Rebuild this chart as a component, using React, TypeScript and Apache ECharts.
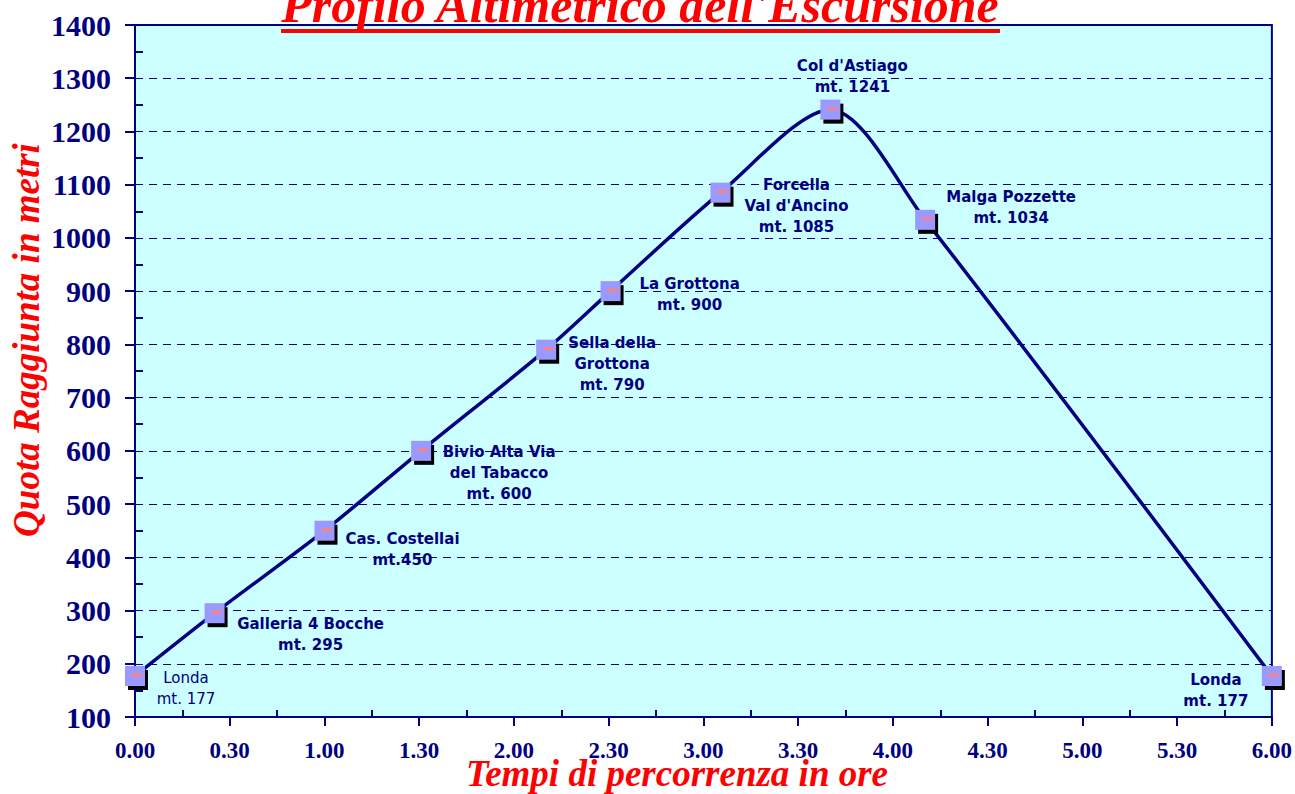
import React, { useEffect, useRef } from "react";
import * as echarts from "echarts";

// ---- Data ----
const pointNames = [
  "Londa",
  "Galleria 4 Bocche",
  "Cas. Costellai",
  "Bivio Alta Via\ndel Tabacco",
  "Sella della\nGrottona",
  "La Grottona",
  "Forcella\nVal d'Ancino",
  "Col d'Astiago",
  "Malga Pozzette",
  "Londa",
];
const elevationLabels = [
  "mt. 177",
  "mt. 295",
  "mt.450",
  "mt. 600",
  "mt. 790",
  "mt. 900",
  "mt. 1085",
  "mt. 1241",
  "mt. 1034",
  "mt. 177",
];
const timesHours = [0, 0.42, 1.0, 1.51, 2.17, 2.51, 3.09, 3.67, 4.17, 6.0];
const elevations = [177, 295, 450, 600, 790, 900, 1085, 1241, 1034, 177];
const xTickLabels = [
  "0.00", "0.30", "1.00", "1.30", "2.00", "2.30", "3.00",
  "3.30", "4.00", "4.30", "5.00", "5.30", "6.00",
];

// ---- Styles (label placement relative to each marker) ----
const labelOffsets: [number, number][] = [
  [51, 12], [96, 21], [78, 19], [78, 22], [66, 14],
  [79, 3], [76, 13], [22, -33], [86, -12], [-56, 14],
];
const labelWeights = ["normal", "bold", "bold", "bold", "bold", "bold", "bold", "bold", "bold", "bold"];

const NAVY = "#000080";
const RED = "#FF0000";

export default function App() {
  const ref = useRef<HTMLDivElement>(null);
  useEffect(() => {
    if (!ref.current) return;
    const chart = echarts.init(ref.current, undefined, { renderer: "svg" });
    const pts = timesHours.map((t, i) => [t, elevations[i]]);
    const option: any = {
      animation: false,
      backgroundColor: "#FFFFFF",
      grid: {
        left: 135,
        top: 25,
        right: 23,
        bottom: 77,
        show: true,
        backgroundColor: "#CCFFFF",
        borderColor: NAVY,
        borderWidth: 2,
      },
      xAxis: {
        type: "value",
        min: 0,
        max: 6,
        interval: 0.5,
        axisLine: { show: true, onZero: false, lineStyle: { color: NAVY, width: 2 } },
        axisTick: { show: true, length: 9, lineStyle: { color: NAVY, width: 2 } },
        minorTick: { show: true, splitNumber: 2, length: -7, lineStyle: { color: NAVY, width: 2 } },
        splitLine: { show: false },
        axisLabel: {
          color: NAVY,
          fontFamily: '"Liberation Serif", "Times New Roman", serif',
          fontWeight: "bold",
          fontSize: 23,
          margin: 22,
          formatter: (v: number) => xTickLabels[Math.round(v * 2)] ?? "",
        },
      },
      yAxis: {
        type: "value",
        min: 100,
        max: 1400,
        interval: 100,
        axisLine: { show: true, onZero: false, lineStyle: { color: NAVY, width: 2 } },
        axisTick: { show: true, length: 10, lineStyle: { color: NAVY, width: 2 } },
        minorTick: { show: true, splitNumber: 2, length: -8, lineStyle: { color: NAVY, width: 2 } },
        splitLine: { show: true, lineStyle: { color: NAVY, width: 1, type: [8, 6] } },
        axisLabel: {
          color: NAVY,
          fontFamily: '"Liberation Serif", "Times New Roman", serif',
          fontWeight: "bold",
          fontSize: 30,
          margin: 24,
          formatter: (v: number) => String(v),
        },
      },
      graphic: [
        {
          type: "text",
          x: 640,
          y: 5,
          z: 100,
          style: {
            text: "Profilo Altimetrico dell'Escursione",
            fill: RED,
            font: 'italic bold 50px "Liberation Serif", serif',
            textAlign: "center",
            textVerticalAlign: "middle",
          },
        },
        {
          type: "rect",
          z: 100,
          shape: { x: 281, y: 29, width: 719, height: 4 },
          style: { fill: RED },
        },
        {
          type: "text",
          x: 26,
          y: 340,
          rotation: Math.PI / 2,
          z: 100,
          style: {
            text: "Quota Raggiunta in metri",
            fill: RED,
            font: 'italic bold 37px "Liberation Serif", serif',
            textAlign: "center",
            textVerticalAlign: "middle",
          },
        },
        {
          type: "text",
          x: 677,
          y: 773,
          z: 100,
          style: {
            text: "Tempi di percorrenza in ore",
            fill: RED,
            font: 'italic bold 37px "Liberation Serif", serif',
            textAlign: "center",
            textVerticalAlign: "middle",
          },
        },
      ],
      series: [
        {
          type: "line",
          data: pts,
          smooth: 0.3,
          showSymbol: false,
          symbol: "none",
          lineStyle: { color: NAVY, width: 3.5 },
          z: 2,
        },
        {
          type: "scatter",
          data: pts,
          symbol: "rect",
          symbolSize: 20,
          symbolOffset: [3, 4],
          itemStyle: { color: "#000000", opacity: 1 },
          z: 3,
          silent: true,
        },
        {
          type: "scatter",
          data: pts.map((p, i) => ({
            value: p,
            label: {
              show: true,
              position: "inside",
              offset: labelOffsets[i],
              formatter: pointNames[i] + "\n" + elevationLabels[i],
              color: NAVY,
              fontFamily: '"DejaVu Sans", Verdana, sans-serif',
              fontWeight: labelWeights[i],
              fontSize: 15,
              lineHeight: 21,
              align: "center",
              verticalAlign: "middle",
            },
          })),
          symbol: "rect",
          symbolSize: 20,
          itemStyle: { color: "#9999FF", opacity: 1 },
          z: 4,
        },
        {
          type: "scatter",
          data: pts,
          symbol: "rect",
          symbolSize: [10, 3],
          symbolOffset: [2, -1],
          itemStyle: { color: "#FF8080", opacity: 1 },
          z: 5,
          silent: true,
        },
      ],
    };
    chart.setOption(option);
    return () => chart.dispose();
  }, []);
  return (
    <div
      ref={ref}
      style={{ position: "absolute", left: 0, top: 0, width: 1295, height: 794 }}
    />
  );
}
